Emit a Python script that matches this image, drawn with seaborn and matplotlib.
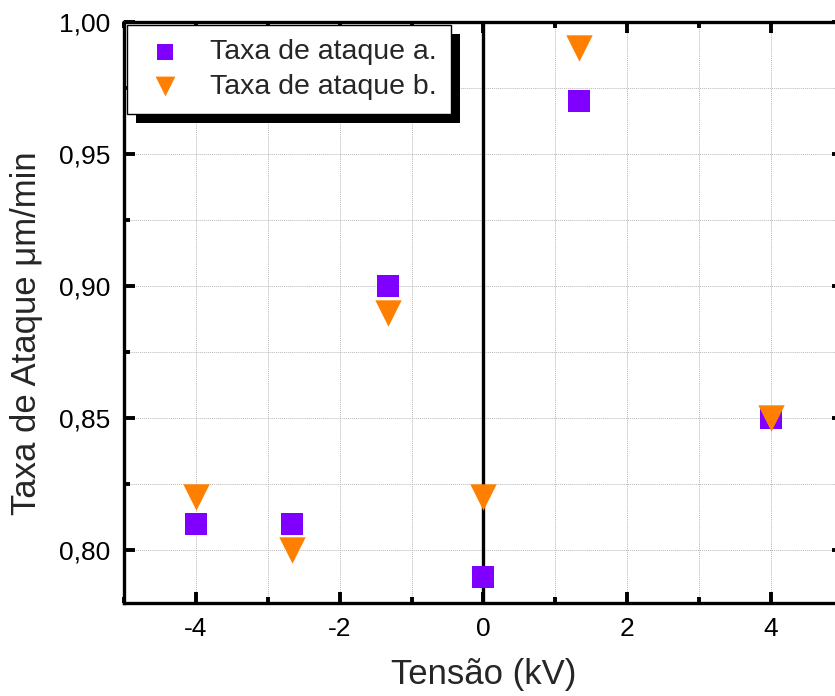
import numpy as np
import pandas as pd
import matplotlib
matplotlib.use("Agg")
import matplotlib.pyplot as plt
import matplotlib.patheffects as pe
from matplotlib.ticker import MultipleLocator, FuncFormatter
import seaborn as sns

sns.set_style("white")
plt.rcParams['font.family'] = ['Liberation Sans', 'DejaVu Sans']

# data
tensao = [-4, -8 / 3, -4 / 3, 0, 4 / 3, 4]
taxa_a = [0.81, 0.81, 0.90, 0.79, 0.97, 0.85]
taxa_b = [0.82, 0.80, 0.89, 0.82, 0.99, 0.85]
series = ["Taxa de ataque a.", "Taxa de ataque b."]

df = pd.DataFrame({
    "Tensão (kV)": tensao * 2,
    "taxa": taxa_a + taxa_b,
    "serie": [series[0]] * len(tensao) + [series[1]] * len(tensao),
})

fig = plt.figure(figsize=(8.35, 6.96), dpi=100)
ax = fig.add_axes([124 / 835, 1 - 603 / 696, 718.75 / 835, 581 / 696])

# vertical line at zero
ax.axvline(0, color="black", lw=2.4, zorder=1)

sns.scatterplot(data=df[df.serie == series[0]], x="Tensão (kV)", y="taxa",
                marker="s", s=15.5 ** 2, color="#8000FF", linewidth=0,
                label=series[0], ax=ax, zorder=3)
sns.scatterplot(data=df[df.serie == series[1]], x="Tensão (kV)", y="taxa",
                marker="v", s=19 ** 2, color="#FF8000", linewidth=0,
                label=series[1], ax=ax, zorder=3)

ax.set_xlim(-5, 5)
ax.set_ylim(0.78, 1.00)
ax.xaxis.set_major_locator(MultipleLocator(2))
ax.xaxis.set_minor_locator(MultipleLocator(1))
ax.yaxis.set_major_locator(MultipleLocator(0.05))
ax.yaxis.set_minor_locator(MultipleLocator(0.025))
ax.yaxis.set_major_formatter(FuncFormatter(lambda v, p: f"{v:.2f}".replace(".", ",")))
ax.xaxis.set_major_formatter(FuncFormatter(lambda v, p: f"{v:.0f}"))

ax.grid(True, which="both", color="#b8b8b8", ls=(0, (1, 1)), lw=0.7)
ax.set_axisbelow(True)

for sp in ax.spines.values():
    sp.set_linewidth(2.4)
    sp.set_color("black")

ax.tick_params(which="both", direction="in", top=True, right=True,
               bottom=True, left=True, labelsize=19, colors="black")
ax.tick_params(which="major", length=8, width=2.8, pad=10)
ax.tick_params(which="minor", length=4, width=2.8)

ax.set_xlabel("Tensão (kV)", fontsize=25, labelpad=12)
ax.set_ylabel("Taxa de Ataque μm/min", fontsize=25)
ax.yaxis.set_label_coords(-0.113, 0.465)

leg = ax.legend(loc="upper left", bbox_to_anchor=(0.004, 0.995), borderaxespad=0,
                fontsize=20.5, frameon=True, fancybox=False, edgecolor="black",
                handletextpad=0.74, handlelength=1.69, borderpad=0.5,
                labelspacing=0.3, markerscale=0.75)
frame = leg.get_frame()
frame.set_linewidth(1.0)
frame.set_alpha(1)
frame.set_path_effects([pe.SimplePatchShadow(offset=(6.5, -6.5), shadow_rgbFace="black", alpha=1),
                        pe.Normal()])

fig.savefig("out.png", dpi=100)
